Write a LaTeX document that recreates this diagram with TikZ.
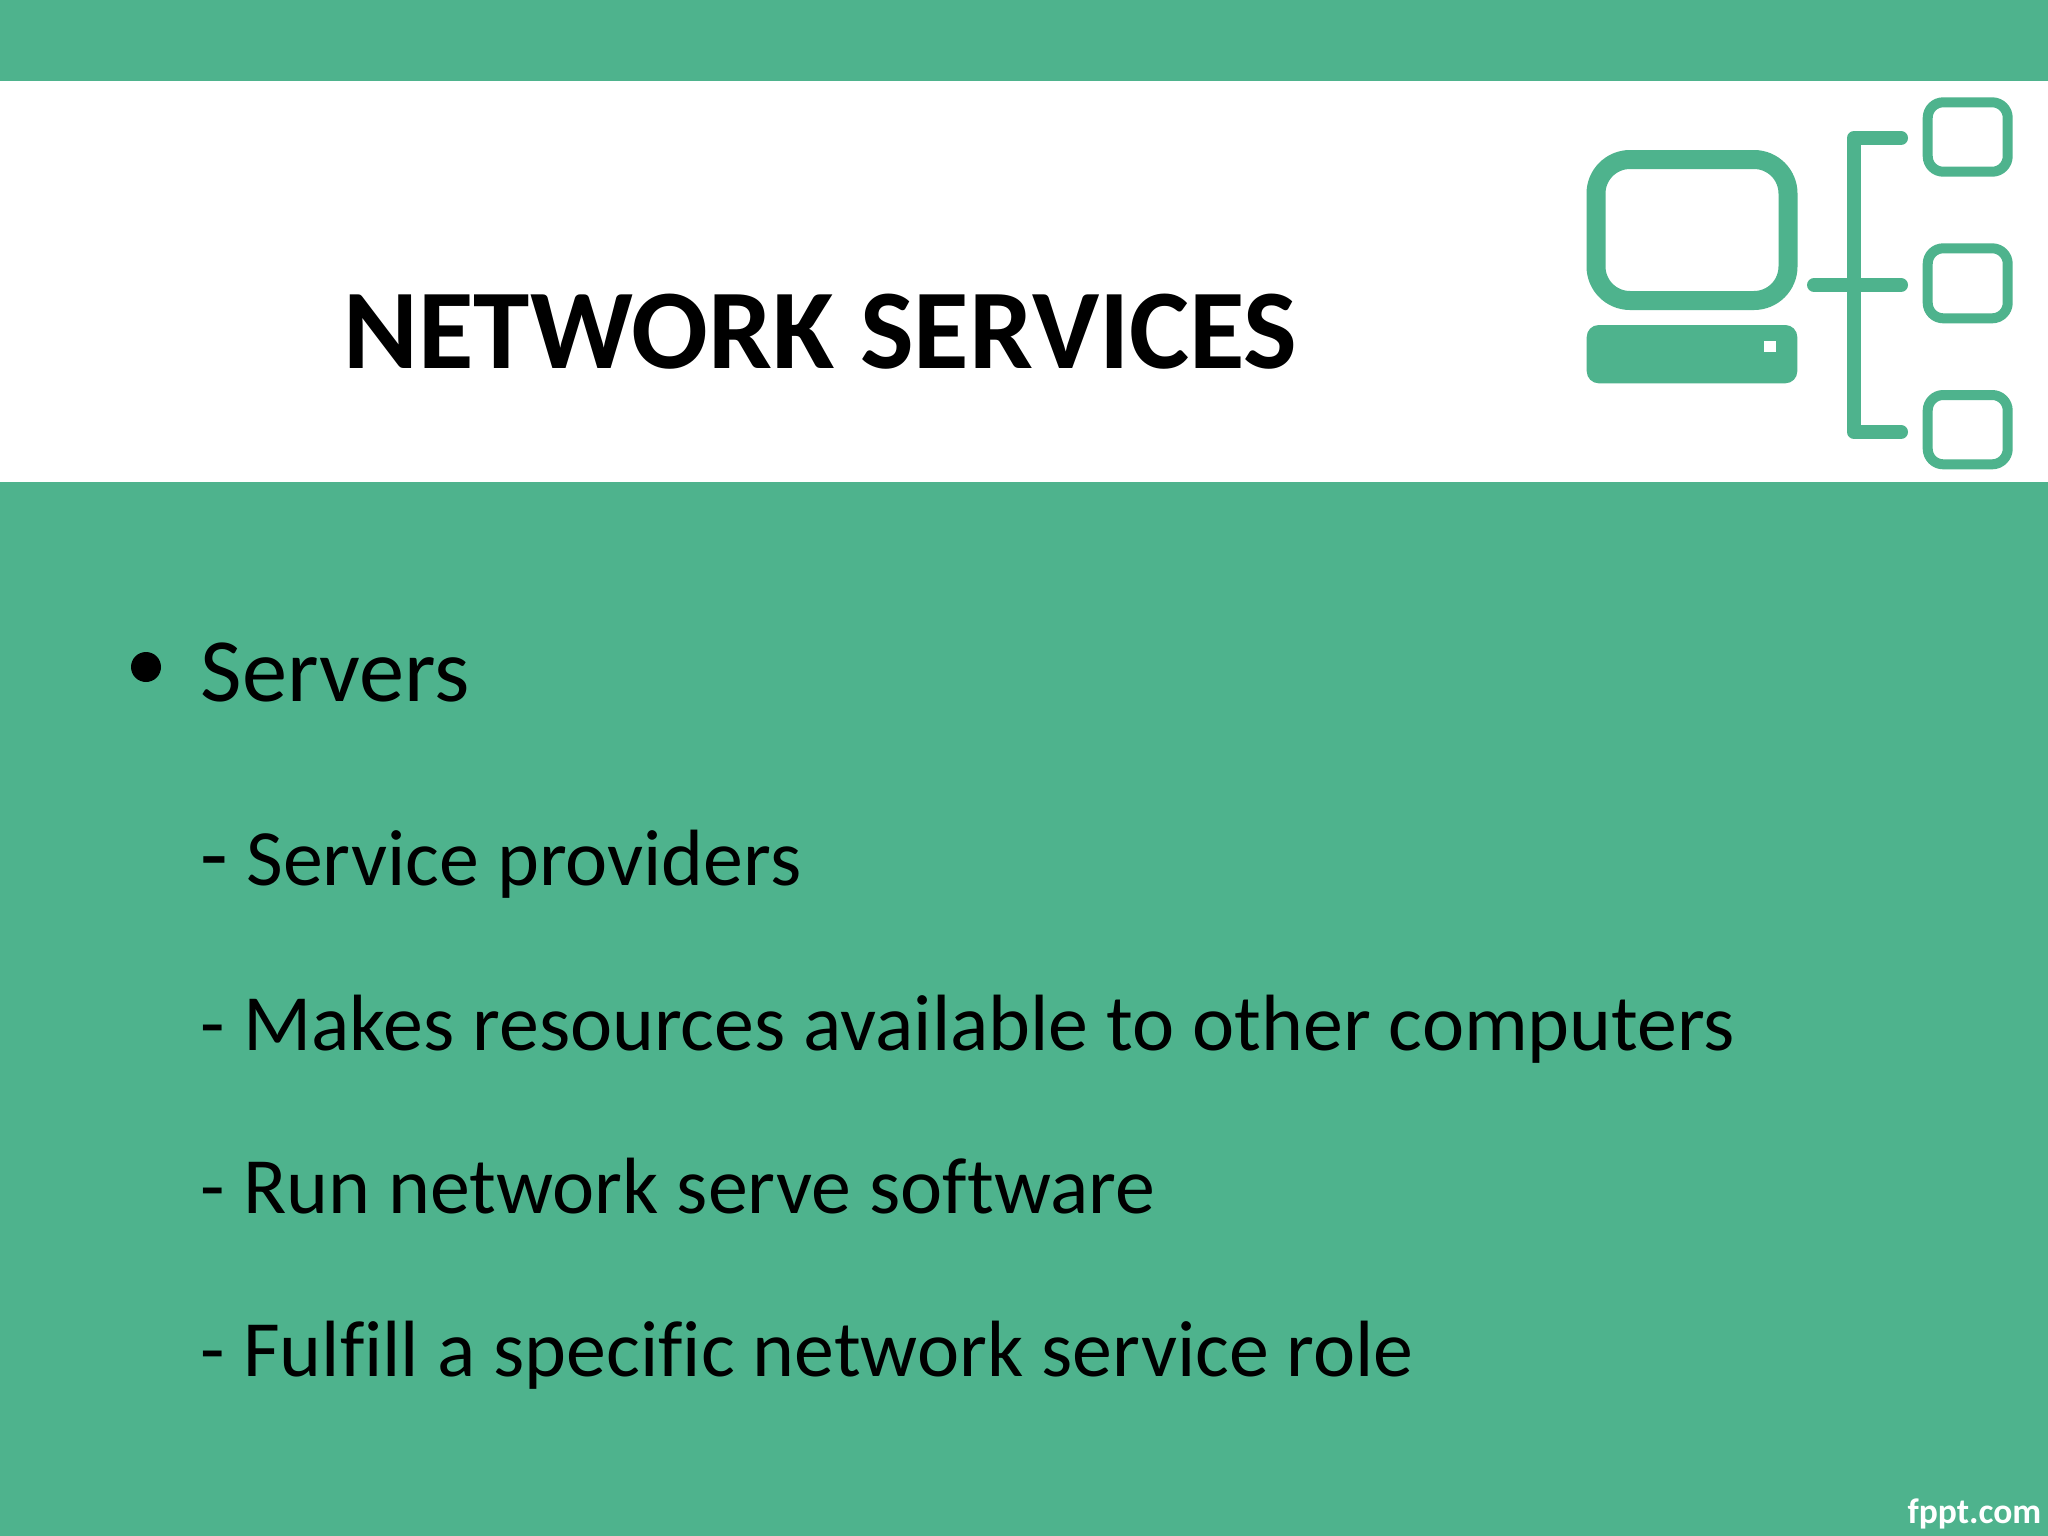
\documentclass[tikz,border=0pt]{standalone}
\usepackage{fontspec}
\setmainfont[Ligatures=CommonOff]{Carlito}
\definecolor{slidegreen}{HTML}{4EB38D}
\newcommand{\titlesize}{\fontsize{32.3}{36}\selectfont}
\newcommand{\headsize}{\fontsize{25.7}{30}\selectfont}
\newcommand{\bodysize}{\fontsize{22.7}{27}\selectfont}
\begin{document}
\begin{tikzpicture}[x=0.01cm,y=-0.01cm]
	\tikzstyle{every node}+=[inner sep=0pt,anchor=base west]
	\tikzstyle{icon}=[slidegreen,line join=round]
	\tikzstyle{branch}=[icon,line width=14*0.01cm,line cap=round]
	\tikzstyle{leaf}=[icon,line width=10*0.01cm,rounded corners=15.5*0.01cm]
	\useasboundingbox (0,0) rectangle (2048,1536);
	\fill [slidegreen] (0,0) rectangle (2048,1536);
	\fill [white] (0,81) rectangle (2048,482);
	% computer
	\draw [icon,line width=19*0.01cm,rounded corners=34*0.01cm] (1596,159.5) rectangle (1788,300.5);
	\fill [icon,rounded corners=12*0.01cm] (1586.7,325) rectangle (1797.3,383.3);
	\fill [white] (1764.3,341.3) rectangle (1775.7,352);
	% tree
	\draw [branch] (1901,138) -- (1854,138) -- (1854,432) -- (1901,432);
	\draw [branch] (1814,285) -- (1901,285);
	\draw [leaf] (1927.7,102.3) rectangle (2007.7,171.7);
	\draw [leaf] (1927.7,248.3) rectangle (2007.7,318.3);
	\draw [leaf] (1927.7,395) rectangle (2007.7,464.3);
	% text
	\node (title) at (343,368) {\titlesize\bfseries NETWORK SERVICES};
	\node (bullet) [circle,fill=black,minimum size=30*0.01cm,anchor=center] at (146,667) {};
	\node (servers) at (200,701) {\headsize Servers};
	\node (providers) at (200,885) {\bodysize{\headsize -} Service providers};
	\node (resources) at (200,1050) {\bodysize - Makes resources available to other computers};
	\node (software) at (200,1213) {\bodysize - Run network serve software};
	\node (role) at (200,1376) {\bodysize - Fulfill a specific network service role};
	\node (brand) [anchor=base east,text=white] at (2042,1523) {\fontsize{10.1}{12}\selectfont\bfseries fppt.com};
\end{tikzpicture}
\end{document}
